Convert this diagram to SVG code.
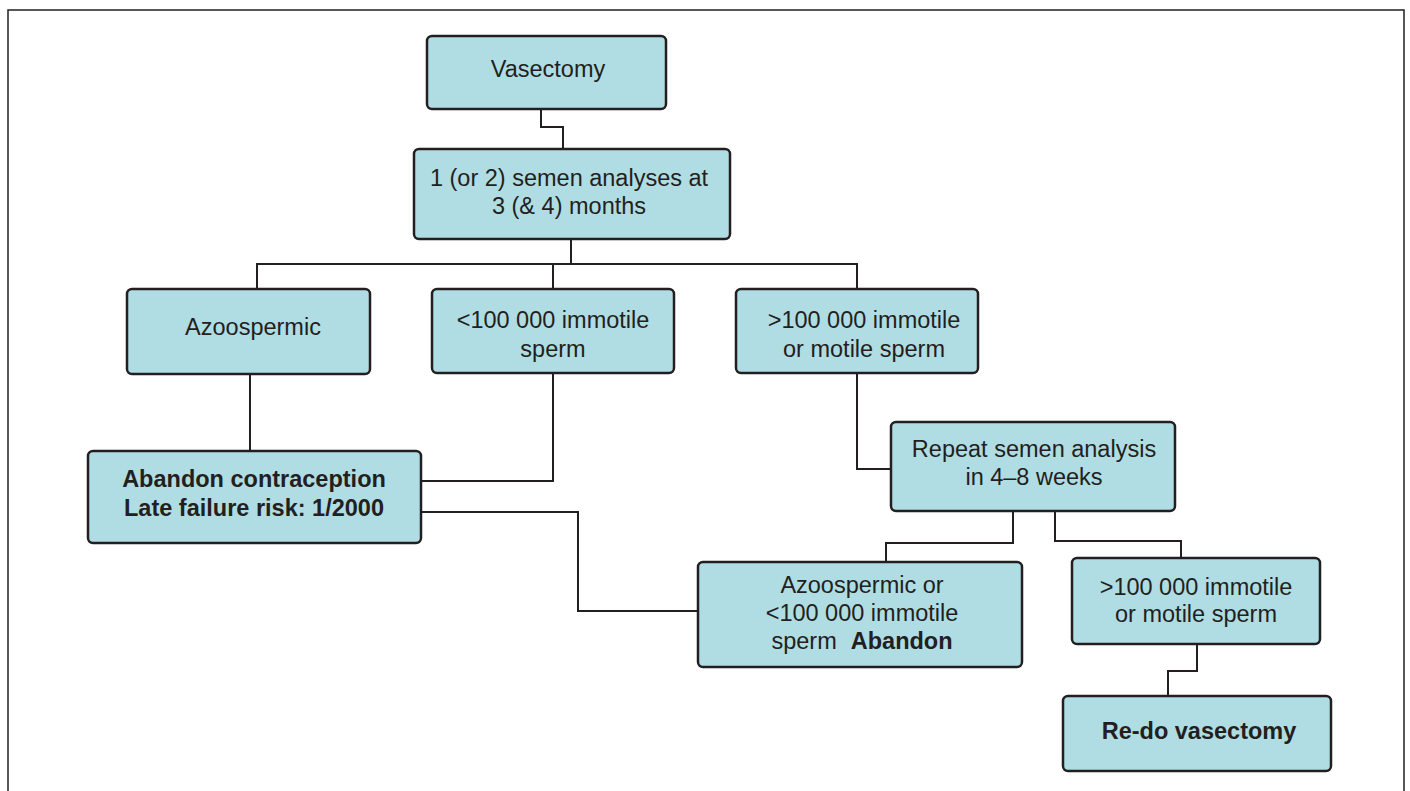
<svg xmlns="http://www.w3.org/2000/svg" width="1410" height="791" viewBox="0 0 1410 791">
<style>
.box{fill:#afdde3;stroke:#231f20;stroke-width:2.5}
.t{font-family:"Liberation Sans",Arial,sans-serif;font-size:23.5px;fill:#231f20;text-anchor:middle}
.b{font-weight:bold}
.c{fill:none;stroke:#231f20;stroke-width:2}
</style>
<rect x="0" y="0" width="1410" height="791" fill="#fff"/>
<path d="M8,800 V10 H1404 V800" fill="none" stroke="#231f20" stroke-width="1.5"/>
<g id="connectors">
<path class="c" d="M541,109 V127 H563 V149"/>
<path class="c" d="M571,239 V264"/>
<path class="c" d="M257,289 V264 H857 V289"/>
<path class="c" d="M553,264 V289"/>
<path class="c" d="M250,374 V451"/>
<path class="c" d="M553,373 V481 H421"/>
<path class="c" d="M421,512 H578 V611 H698"/>
<path class="c" d="M857,373 V469 H891"/>
<path class="c" d="M1013,511 V543 H886 V562"/>
<path class="c" d="M1055,511 V541 H1181 V558"/>
<path class="c" d="M1197,644 V671 H1168 V696"/>
</g>
<g id="n1"><rect class="box" x="427" y="36" width="239" height="73" rx="5"/><text class="t" x="548" y="77">Vasectomy</text></g>
<g id="n2"><rect class="box" x="414" y="149" width="316" height="90" rx="5"/><text class="t" x="569" y="186">1 (or 2) semen analyses at</text><text class="t" x="569" y="214">3 (&amp; 4) months</text></g>
<g id="n3"><rect class="box" x="127" y="289" width="243" height="85" rx="5"/><text class="t" x="253" y="335">Azoospermic</text></g>
<g id="n4"><rect class="box" x="432" y="289" width="242" height="84" rx="5"/><text class="t" x="553" y="328">&lt;100 000 immotile</text><text class="t" x="553" y="357">sperm</text></g>
<g id="n5"><rect class="box" x="736" y="289" width="242" height="84" rx="5"/><text class="t" x="864" y="328">&gt;100 000 immotile</text><text class="t" x="864" y="357">or motile sperm</text></g>
<g id="n6"><rect class="box" x="88" y="451" width="333" height="92" rx="5"/><text class="t b" x="254" y="487">Abandon contraception</text><text class="t b" x="254" y="516">Late failure risk: 1/2000</text></g>
<g id="n7"><rect class="box" x="891" y="422" width="284" height="89" rx="5"/><text class="t" x="1034" y="457">Repeat semen analysis</text><text class="t" x="1034" y="485">in 4–8 weeks</text></g>
<g id="n8"><rect class="box" x="698" y="562" width="324" height="105" rx="5"/><text class="t" x="862" y="593">Azoospermic or</text><text class="t" x="862" y="621">&lt;100 000 immotile</text><text class="t" x="862" y="649">sperm<tspan class="b" dx="14">Abandon</tspan></text></g>
<g id="n9"><rect class="box" x="1072" y="558" width="248" height="86" rx="5"/><text class="t" x="1196" y="595">&gt;100 000 immotile</text><text class="t" x="1196" y="622">or motile sperm</text></g>
<g id="n10"><rect class="box" x="1063" y="696" width="268" height="75" rx="5"/><text class="t b" x="1199" y="739">Re-do vasectomy</text></g>
</svg>
